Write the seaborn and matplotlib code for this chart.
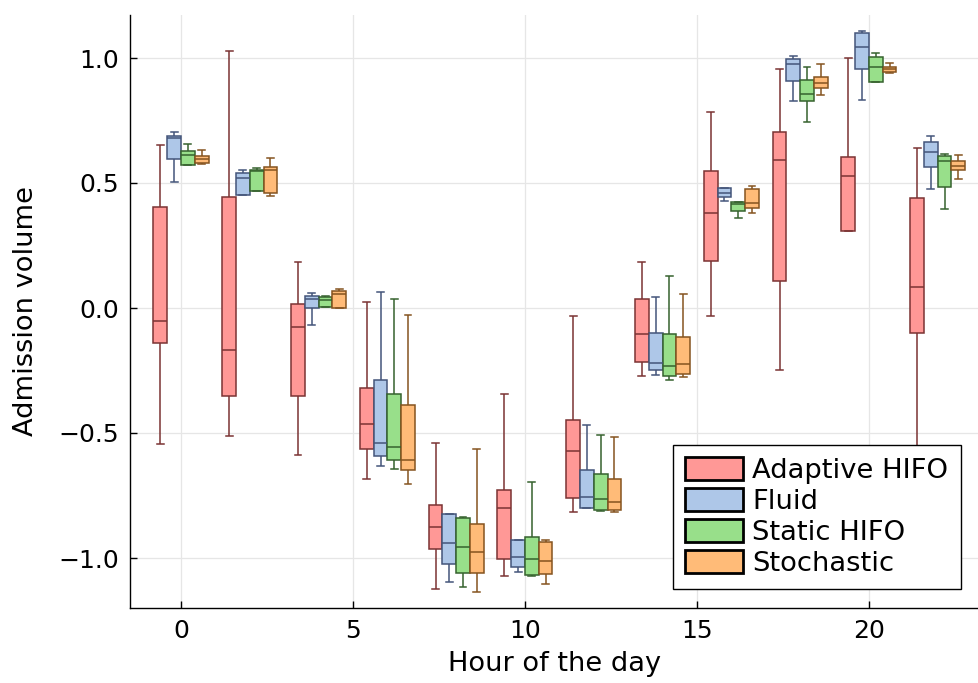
import numpy as np
import pandas as pd
import matplotlib
matplotlib.use("Agg")
import matplotlib.pyplot as plt
import seaborn as sns
from matplotlib.patches import Patch

# ---------------- data (five-number summaries) ----------------
hours = [0, 2, 4, 6, 8, 10, 12, 14, 16, 18, 20, 22]
schedulers = ["Adaptive HIFO", "Fluid", "Static HIFO", "Stochastic"]

adaptive_lo  = [-0.545, -0.512, -0.588, -0.685, -1.123, -1.071, -0.817, -0.271, -0.031, -0.248, 0.309, -0.800]
adaptive_q1  = [-0.141, -0.352, -0.352, -0.565, -0.964, -1.005, -0.761, -0.217, 0.187, 0.108, 0.309, -0.101]
adaptive_med = [-0.052, -0.168, -0.077, -0.465, -0.875, -0.799, -0.572, -0.104, 0.380, 0.592, 0.529, 0.085]
adaptive_q3  = [0.405, 0.443, 0.015, -0.321, -0.789, -0.729, -0.449, 0.036, 0.549, 0.704, 0.605, 0.441]
adaptive_hi  = [0.651, 1.029, 0.184, 0.024, -0.540, -0.344, -0.032, 0.185, 0.784, 0.956, 1.001, 0.640]

fluid_lo  = [0.504, 0.452, -0.068, -0.632, -1.097, -1.056, -0.800, -0.267, 0.429, 0.829, 0.831, 0.476]
fluid_q1  = [0.595, 0.452, -0.001, -0.592, -1.024, -1.035, -0.799, -0.248, 0.445, 0.908, 0.956, 0.565]
fluid_med = [0.680, 0.519, 0.035, -0.541, -0.941, -0.996, -0.755, -0.221, 0.461, 0.975, 1.045, 0.623]
fluid_q3  = [0.689, 0.540, 0.049, -0.289, -0.825, -0.927, -0.647, -0.100, 0.481, 0.997, 1.099, 0.665]
fluid_hi  = [0.704, 0.553, 0.059, 0.065, -0.823, -0.927, -0.467, 0.043, 0.481, 1.009, 1.108, 0.688]

static_lo  = [0.571, 0.468, 0.005, -0.645, -1.115, -1.071, -0.810, -0.288, 0.360, 0.745, 0.905, 0.396]
static_q1  = [0.571, 0.468, 0.005, -0.608, -1.059, -1.068, -0.807, -0.272, 0.389, 0.829, 0.905, 0.483]
static_med = [0.612, 0.549, 0.032, -0.556, -0.957, -1.004, -0.763, -0.233, 0.415, 0.856, 0.965, 0.588]
static_q3  = [0.629, 0.552, 0.045, -0.343, -0.840, -0.915, -0.663, -0.103, 0.425, 0.912, 1.003, 0.609]
static_hi  = [0.656, 0.559, 0.049, 0.036, -0.837, -0.697, -0.507, 0.129, 0.425, 0.964, 1.021, 0.616]

stoch_lo  = [0.578, 0.448, 0.000, -0.704, -1.137, -1.103, -0.817, -0.275, 0.380, 0.852, 0.940, 0.516]
stoch_q1  = [0.581, 0.459, 0.001, -0.649, -1.061, -1.064, -0.809, -0.264, 0.399, 0.881, 0.944, 0.552]
stoch_med = [0.596, 0.552, 0.055, -0.608, -0.975, -1.012, -0.775, -0.223, 0.419, 0.899, 0.955, 0.569]
stoch_q3  = [0.608, 0.564, 0.067, -0.387, -0.864, -0.935, -0.683, -0.117, 0.475, 0.924, 0.965, 0.587]
stoch_hi  = [0.633, 0.599, 0.077, -0.028, -0.565, -0.928, -0.517, 0.056, 0.489, 0.977, 0.979, 0.613]

summaries = {
    "Adaptive HIFO": [adaptive_lo, adaptive_q1, adaptive_med, adaptive_q3, adaptive_hi],
    "Fluid": [fluid_lo, fluid_q1, fluid_med, fluid_q3, fluid_hi],
    "Static HIFO": [static_lo, static_q1, static_med, static_q3, static_hi],
    "Stochastic": [stoch_lo, stoch_q1, stoch_med, stoch_q3, stoch_hi],
}

# long table: each box is represented by its five-number summary
rows = []
for name, stats in summaries.items():
    for i, h in enumerate(hours):
        for s in stats:
            rows.append({"Hour": h, "Value": s[i], "Scheduler": name})
df = pd.DataFrame(rows)

# ---------------- style ----------------
fills = {"Adaptive HIFO": "#ff9896", "Fluid": "#aec7e8",
         "Static HIFO": "#98df8a", "Stochastic": "#ffbb78"}
edges = {"Adaptive HIFO": "#7a3333", "Fluid": "#44557a",
         "Static HIFO": "#36622e", "Stochastic": "#85531f"}

plt.rcParams["font.family"] = ["DejaVu Sans"]

fig = plt.figure(figsize=(9.79, 6.83), dpi=100)
ax = fig.add_axes([130 / 979, 75 / 683, 849 / 979, 593 / 683])

for name in schedulers:
    sns.boxplot(data=df[df["Scheduler"] == name], x="Hour", y="Value",
                hue="Scheduler", hue_order=schedulers, palette=fills,
                native_scale=True, dodge=True, width=0.8, gap=0,
                whis=(0, 100), saturation=1, linecolor=edges[name],
                linewidth=1.1, showfliers=False, legend=False, ax=ax)

ax.set_xlim(-1.483, 23.2)
ax.set_ylim(-1.2, 1.172)
ax.set_xticks([0, 5, 10, 15, 20])
ax.set_yticks([-1.0, -0.5, 0.0, 0.5, 1.0])
ax.set_xlabel("Hour of the day", fontsize=19.6, labelpad=6)
ax.set_ylabel("Admission volume", fontsize=19.6, labelpad=14)
ax.tick_params(axis="both", direction="in", length=5, width=1,
               labelsize=18, pad=8)
ax.grid(True, color="#e6e6e6", linewidth=0.9)
ax.set_axisbelow(True)
for side in ("top", "right"):
    ax.spines[side].set_visible(False)
for side in ("left", "bottom"):
    ax.spines[side].set_linewidth(1.0)
    ax.spines[side].set_color("black")

handles = [Patch(facecolor=fills[n], edgecolor="black", linewidth=2.0, label=n)
           for n in schedulers]
leg = ax.legend(handles=handles, loc="lower right",
                bbox_to_anchor=(0.9785, 0.032), borderaxespad=0,
                fontsize=19.7, frameon=True, fancybox=False, framealpha=1,
                edgecolor="black", handlelength=2.1, handleheight=0.9,
                handletextpad=0.35, labelspacing=0.15, borderpad=0.45)
leg.get_frame().set_linewidth(1.0)
leg.set_zorder(10)

fig.savefig("out.png", dpi=100)
